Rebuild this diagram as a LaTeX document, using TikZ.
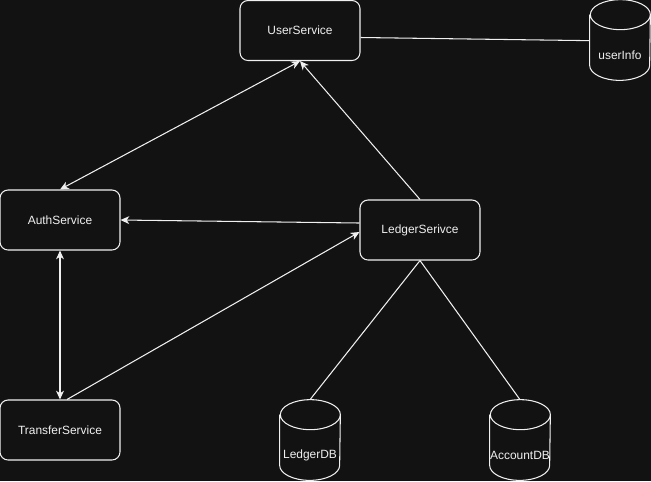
\documentclass[tikz,border=0pt]{standalone}
\usepackage{fontspec}
\setmainfont{Liberation Sans}
\usetikzlibrary{arrows.meta}

\definecolor{bgcol}{HTML}{121212}
\definecolor{fgcol}{HTML}{F0F0F0}

\tikzset{
  box/.style={draw=fgcol, fill=bgcol, rounded corners=0.16cm, line width=0.6pt,
    minimum width=2.4cm, minimum height=1.2cm, inner sep=0pt,
    text=fgcol, font=\fontsize{6.8}{8}\selectfont},
  dbbody/.style={minimum width=1.2cm, minimum height=1.0cm, inner sep=0pt,
    text=fgcol, font=\fontsize{6.8}{8}\selectfont},
  dbline/.style={draw=fgcol, line width=0.6pt},
  link/.style={draw=fgcol, line width=0.6pt},
  tip/.style={-{Stealth[length=5pt,width=4.5pt,inset=1.5pt]}},
  tips/.style={{Stealth[length=5pt,width=4.5pt,inset=1.5pt]}-{Stealth[length=5pt,width=4.5pt,inset=1.5pt]}}
}

% cylinder outline round a db body node
\newcommand{\dbshape}[1]{%
  \draw[dbline] ([yshift=0.3cm]#1.north west) -- ([yshift=0.3cm]#1.south west)
    arc[start angle=180, end angle=360, x radius=0.6cm, y radius=0.3cm]
    -- ([yshift=0.3cm]#1.north east)
    arc[start angle=0, end angle=180, x radius=0.6cm, y radius=0.3cm]
    arc[start angle=180, end angle=360, x radius=0.6cm, y radius=0.3cm];
  \coordinate (#1top) at ([yshift=0.6cm]#1.north);
}

\begin{document}
\begin{tikzpicture}[x=0.02cm, y=0.02cm]
    % --- background ---
    \fill[bgcol] (0,0) rectangle (651,-481);
    \useasboundingbox (0,0) rectangle (651,-481);

    % --- services ---
    \node[box] (user) at (300,-30.5) {UserService};
    \node[box] (auth) at (60,-220) {AuthService};
    \node[box] (ledger) at (420,-230) {LedgerSerivce};
    \node[box] (transfer) at (60,-430) {TransferService};

    % --- databases ---
    \node[dbbody] (uinfo) at (620,-55) {userInfo};
    \node[dbbody] (ldb) at (310,-455) {LedgerDB};
    \node[dbbody] (adb) at (520,-455) {AccountDB};
    \dbshape{uinfo}
    \dbshape{ldb}
    \dbshape{adb}

    % --- links ---
    \draw[link] ([yshift=-0.14cm]user.east) -- ([yshift=-0.22cm]uinfo.north west);
    \draw[link, tips] (user.south) -- (auth.north);
    \draw[link, tip] (ledger.north) -- (user.south);
    \draw[link, tip] ([yshift=0.14cm]ledger.west) -- (auth.east);
    \draw[link, tip] ([xshift=0.14cm]transfer.north) -- ([yshift=-0.04cm]ledger.west);
    \draw[link, tips] (auth.south) -- (transfer.north);
    \draw[link] (ledger.south) -- (ldbtop);
    \draw[link] (ledger.south) -- (adbtop);
\end{tikzpicture}
\end{document}
